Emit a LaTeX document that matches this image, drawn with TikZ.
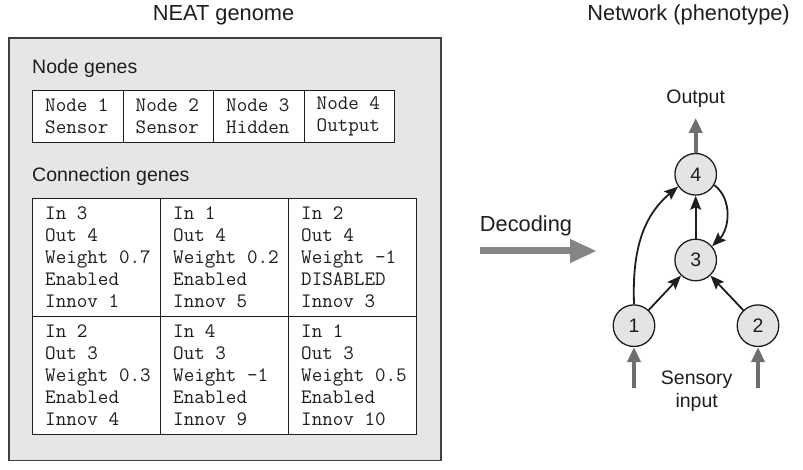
\documentclass[tikz,border=0pt]{standalone}
\usepackage{fontspec}
\setmainfont{Liberation Sans}
\usetikzlibrary{arrows.meta}
\definecolor{boxgray}{HTML}{E6E6E8}
\definecolor{nodegray}{HTML}{E4E4E6}
\definecolor{arrgray}{HTML}{6E6E6E}
\definecolor{decgray}{HTML}{858585}
\definecolor{ink}{HTML}{1E1E1E}
\begin{document}
\begin{tikzpicture}[x=1pt,y=1pt,
  sans/.style={font=\fontsize{19.5}{23}\selectfont, text=ink, inner sep=0},
  bigsans/.style={font=\fontsize{21.8}{25}\selectfont, text=ink, inner sep=0},
  mono/.style={font=\ttfamily\fontsize{20.5}{22}\selectfont, text=ink, align=left, inner sep=0, anchor=west},
  ncell/.style={draw=ink, line width=1.3pt, fill=white, minimum width=90.5, minimum height=52, inner sep=0, anchor=north west},
  ccell/.style={draw=ink, line width=1.3pt, fill=white, minimum width=128, minimum height=118, inner sep=0, anchor=north west},
  neuron/.style={circle, draw=ink, line width=1.3pt, fill=nodegray, minimum size=41.6, inner sep=0, font=\fontsize{19.5}{23}\selectfont, text=ink},
  link/.style={draw=ink, line width=1.8pt, -{Stealth[length=14,width=11,inset=2.5]}},
  ioarrow/.style={draw=arrgray, line width=3.8pt, -{Triangle[length=15,width=13]}}
]
\useasboundingbox (0,0) rectangle (803,469);

% titles
\node[bigsans, anchor=base] (t1) at (223.5,448) {NEAT genome};
\node[bigsans, anchor=base east] (t2) at (790,448) {Network (phenotype)};

% genome box
\node[draw=ink!85, line width=1.5pt, fill=boxgray, minimum width=432, minimum height=422, inner sep=0, anchor=south west] (genome) at (8,8) {};

\node[sans, anchor=base west] (ng) at (32,395.7) {Node genes};
\node[sans, anchor=base west] (cg) at (32,287.3) {Connection genes};

% node genes
\foreach \i/\a/\b in {0/Node 1/Sensor,1/Node 2/Sensor,2/Node 3/Hidden,3/Node 4/Output}{
  \node[ncell] (nc\i) at ({32+90.5*\i},379) {};
  \node[mono] (nt\i) at ([xshift=13]nc\i.west) {\a\\\b};
}

% connection genes
\foreach \i/\r/\c/\txt in {
  1/0/0/{In 3\\Out 4\\Weight 0.7\\Enabled\\Innov 1},
  2/0/1/{In 1\\Out 4\\Weight 0.2\\Enabled\\Innov 5},
  3/0/2/{In 2\\Out 4\\Weight -1\\DISABLED\\Innov 3},
  4/1/0/{In 2\\Out 3\\Weight 0.3\\Enabled\\Innov 4},
  5/1/1/{In 4\\Out 3\\Weight -1\\Enabled\\Innov 9},
  6/1/2/{In 1\\Out 3\\Weight 0.5\\Enabled\\Innov 10}}{
  \node[ccell] (cc\i) at ({32+128*\c},{271-118*\r}) {};
  \node[mono] (ct\i) at ([xshift=13]cc\i.west) {\txt};
}

% decoding arrow
\coordinate (d0) at (480,218);
\coordinate (d1) at (597,218);
\draw[draw=decgray, line width=7pt, -{Triangle[length=27,width=22]}] (d0) -- (d1);
\node[bigsans, anchor=base] (dec) at (526,237.3) {Decoding};

% network
\node[neuron] (n4) at (695.7,294.7) {4};
\node[neuron] (n3) at (695.7,209) {3};
\node[neuron] (n1) at (634,143.3) {1};
\node[neuron] (n2) at (758,143.3) {2};

\node[sans] (out) at (695.7,370) {Output};
\coordinate (o1) at (695.7,351);
\draw[ioarrow] (n4.north) -- (o1);

\coordinate (i1) at (634,81);
\coordinate (i2) at (758,81);
\draw[ioarrow] (i1) -- (n1.south);
\draw[ioarrow] (i2) -- (n2.south);
\node[sans, align=center] (sens) at (696.7,77.5) {Sensory\\input};

\draw[link] (n1) -- (n3);
\draw[link] (n2) -- (n3);
\draw[link] (n3) -- (n4);
\draw[link] (n1.north) to[out=92,in=220] (n4.215);
\draw[link] (n4.-30) to[out=-38,in=45] (n3.40);
\end{tikzpicture}
\end{document}
